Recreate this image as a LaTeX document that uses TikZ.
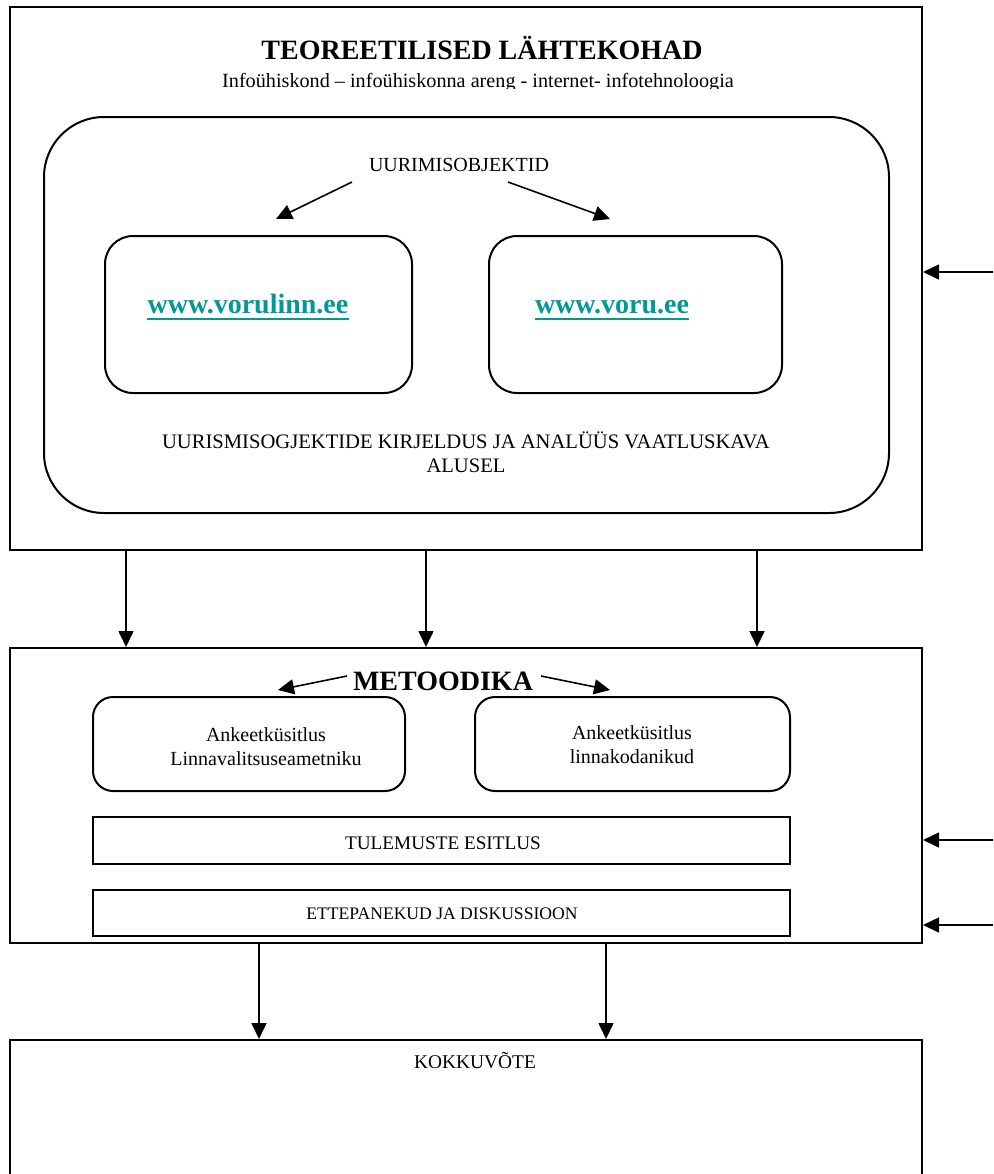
\documentclass[tikz,border=0pt]{standalone}
\usepackage{fontspec}
\setmainfont{Liberation Serif}
\usetikzlibrary{arrows.meta,fit}
\definecolor{linkteal}{RGB}{0,153,153}
\tikzset{
  frame/.style={draw, line width=1pt, inner sep=0pt},
  roundbig/.style={frame, rounded corners=30pt},
  roundmid/.style={frame, rounded corners=14pt},
  roundsmall/.style={frame, rounded corners=10pt},
  arr/.style={line width=0.8pt, -{Triangle[length=8pt,width=7.5pt]}},
  txt/.style={font=\fontsize{10}{12}\selectfont, align=center, inner sep=0pt, anchor=base},
  bigtxt/.style={font=\fontsize{14}{16}\selectfont\bfseries, inner sep=0pt, anchor=base},
  linktxt/.style={font=\fontsize{14}{16}\selectfont\bfseries, text=linkteal, inner sep=0pt, anchor=base},
  uline/.style={draw=linkteal, line width=1.3pt}
}
\begin{document}
\begin{tikzpicture}[x=0.5pt,y=-0.5pt]
\clip (0,0) rectangle (993,1174);
\fill[white] (0,0) rectangle (993,1174);

% ---------- top section ----------
\node[frame, fit={(10,7) (922,550)}] (top) {};
\node[bigtxt] (title) at (482,59) {TEOREETILISED LÄHTEKOHAD};
\begin{scope}
\clip (0,0) rectangle (993,88);
\node[txt, font=\fontsize{10.1}{12}\selectfont] (subtitle) at (478,87) {Infoühiskond – infoühiskonna areng - internet- infotehnoloogia};
\end{scope}

\node[roundbig, fit={(44,117) (889,513)}] (objbox) {};
\node[txt] (uo) at (459,171) {UURIMISOBJEKTID};
\node[roundmid, fit={(105,236) (412,393)}] (lbox) {};
\node[roundmid, fit={(489,236) (782,393)}] (rbox) {};
\node[linktxt] (l1) at (248,313) {www.vorulinn.ee};
\node[linktxt] (l2) at (612,313) {www.voru.ee};
\draw[uline] ([yshift=-3pt]l1.base west) -- ([yshift=-3pt]l1.base east);
\draw[uline] ([yshift=-3pt]l2.base west) -- ([yshift=-3pt]l2.base east);
\node[txt, font=\fontsize{10.3}{12}\selectfont] (desc) at (466,472) {UURISMISOGJEKTIDE KIRJELDUS JA ANALÜÜS VAATLUSKAVA\\ALUSEL};

\coordinate (uoL) at (352,182);
\coordinate (uoR) at (508,182);
\coordinate (tipL) at (276,219);
\coordinate (tipR) at (610,219);
\draw[arr] (uoL) -- (tipL);
\draw[arr] (uoR) -- (tipR);

\coordinate (in1) at (993,272);
\draw[arr] (in1) -- (top.east |- in1);

% ---------- middle section ----------
\node[frame, fit={(10,648) (922,943)}] (mid) {};
\coordinate (d1) at (126,600);
\coordinate (d2) at (426,600);
\coordinate (d3) at (757,600);
\draw[arr] (top.south -| d1) -- (mid.north -| d1);
\draw[arr] (top.south -| d2) -- (mid.north -| d2);
\draw[arr] (top.south -| d3) -- (mid.north -| d3);

\node[bigtxt] (met) at (443,690) {METOODIKA};
\coordinate (mL) at (347,676);
\coordinate (mR) at (541,676);
\coordinate (mtL) at (278,690);
\coordinate (mtR) at (610,690);
\draw[arr] (mL) -- (mtL);
\draw[arr] (mR) -- (mtR);

\node[roundsmall, fit={(93,697) (405,791)}] (q1) {};
\node[roundsmall, fit={(475,697) (790,791)}] (q2) {};
\node[txt] (q1t) at (266,765) {Ankeetküsitlus\\Linnavalitsuseametniku};
\node[txt] (q2t) at (632,763) {Ankeetküsitlus\\linnakodanikud};

\node[frame, fit={(93,817) (790,864)}] (res) {};
\node[txt, font=\fontsize{9.6}{12}\selectfont] at (443,849) {TULEMUSTE ESITLUS};
\node[frame, fit={(93,890) (790,936)}] (disc) {};
\node[txt, font=\fontsize{8.8}{12}\selectfont] at (442,919) {ETTEPANEKUD JA DISKUSSIOON};

\coordinate (in2) at (993,840);
\coordinate (in3) at (993,925);
\draw[arr] (in2) -- (mid.east |- in2);
\draw[arr] (in3) -- (mid.east |- in3);

% ---------- bottom section ----------
\node[frame, fit={(10,1040) (922,1200)}] (bot) {};
\coordinate (e1) at (259,1000);
\coordinate (e2) at (606,1000);
\draw[arr] (mid.south -| e1) -- (bot.north -| e1);
\draw[arr] (mid.south -| e2) -- (bot.north -| e2);
\node[txt, font=\fontsize{9.7}{12}\selectfont] (sum) at (475,1068) {KOKKUVÕTE};
\end{tikzpicture}
\end{document}
